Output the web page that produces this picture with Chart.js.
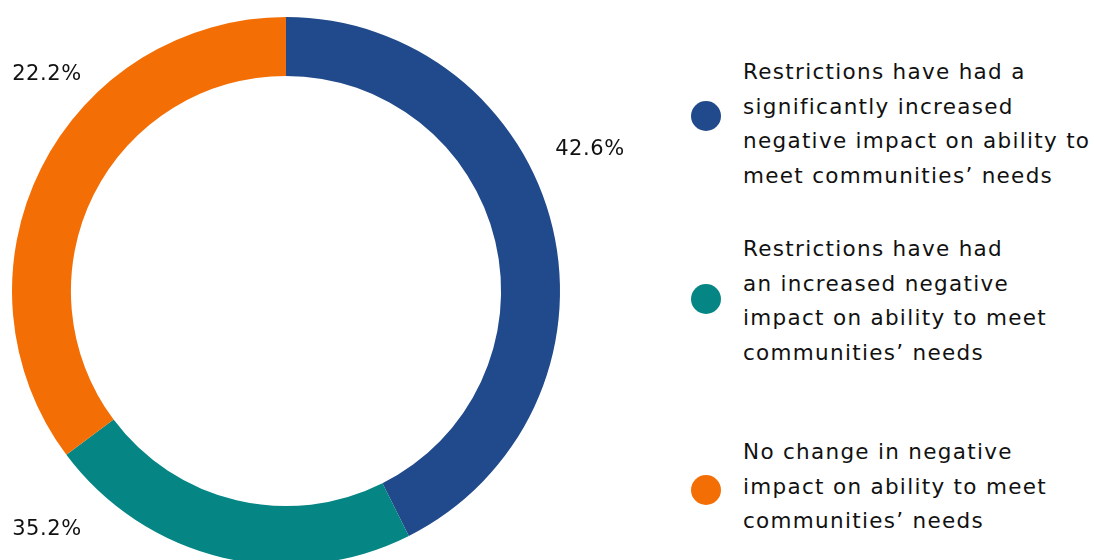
<!DOCTYPE html>
<html>
<head>
<meta charset="utf-8">
<script src="https://cdn.jsdelivr.net/npm/chart.js@4"></script>
<style>
  html, body { margin: 0; padding: 0; background: #fff; overflow: hidden; }
  body { width: 1094px; height: 560px; position: relative; font-family: "DejaVu Sans", sans-serif; }
  #chart-box { position: absolute; left: 0; top: 0; width: 680px; height: 582px; }
  #legend { position: absolute; left: 690px; top: 0; width: 404px; }
  .item { position: absolute; left: 0; display: flex; align-items: flex-start; }
  .dot { width: 30px; height: 30px; border-radius: 50%; flex: none; margin-left: 1px; margin-right: 22px; }
  .txt { font-size: 21.5px; letter-spacing: 1.3px; line-height: 34.5px; color: #111; white-space: nowrap; }
</style>
</head>
<body>
<div id="chart-box"><canvas id="donut" width="680" height="582"></canvas></div>
<div id="legend"></div>
<script>
// categories and values
const categories = [
    ['Restrictions have had a', 'significantly increased', 'negative impact on ability to', 'meet communities\u2019 needs'],
    ['Restrictions have had', 'an increased negative', 'impact on ability to meet', 'communities\u2019 needs'],
    ['No change in negative', 'impact on ability to meet', 'communities\u2019 needs']
];
const values = [42.6, 22.2, 35.2];
const colors = ['#214a8c', '#068585', '#f36f06'];
// percent labels as printed in the original, in drawing order
const pctLabels = ['42.6%', '22.2%', '35.2%'];

// where each printed label sits, relative to the doughnut centre
const labelSpots = [
    { dx: 304, dy: -141 },
    { dx: -239, dy: -216 },
    { dx: -239, dy: 239 }
];

const pctPlugin = {
    id: 'pctLabels',
    afterDraw(chart) {
        const arc = chart.getDatasetMeta(0).data[0];
        const ctx = chart.ctx;
        ctx.save();
        ctx.font = '21px "DejaVu Sans", sans-serif';
        ctx.letterSpacing = '0.6px';
        ctx.fillStyle = '#111';
        ctx.textAlign = 'center';
        ctx.textBaseline = 'middle';
        pctLabels.forEach((t, i) => {
            ctx.fillText(t, arc.x + labelSpots[i].dx, arc.y + labelSpots[i].dy);
        });
        ctx.restore();
    }
};

new Chart(document.getElementById('donut'), {
    type: 'doughnut',
    data: {
        labels: categories.map(c => c.join(' ')),
        datasets: [{
            data: values,
            backgroundColor: colors,
            borderWidth: 0,
            hoverOffset: 0,
            offset: 0,
            spacing: 0
        }]
    },
    options: {
        responsive: false,
        animation: false,
        cutout: '78.5%',
        layout: { padding: { left: 12, right: 120, top: 17, bottom: 17 } },
        plugins: {
            legend: { display: false },
            tooltip: { enabled: false }
        }
    },
    plugins: [pctPlugin]
});

// legend on the right, built from the same arrays
const legendTops = [55, 232, 435];
const dotDrops = [46, 52, 40];
const legend = document.getElementById('legend');
categories.forEach((lines, i) => {
    const item = document.createElement('div');
    item.className = 'item';
    item.style.top = legendTops[i] + 'px';
    item.innerHTML = `<div class="dot" style="background:${colors[i]};margin-top:${dotDrops[i]}px"></div>
        <div class="txt">${lines.join('<br>')}</div>`;
    legend.appendChild(item);
});
</script>
</body>
</html>
